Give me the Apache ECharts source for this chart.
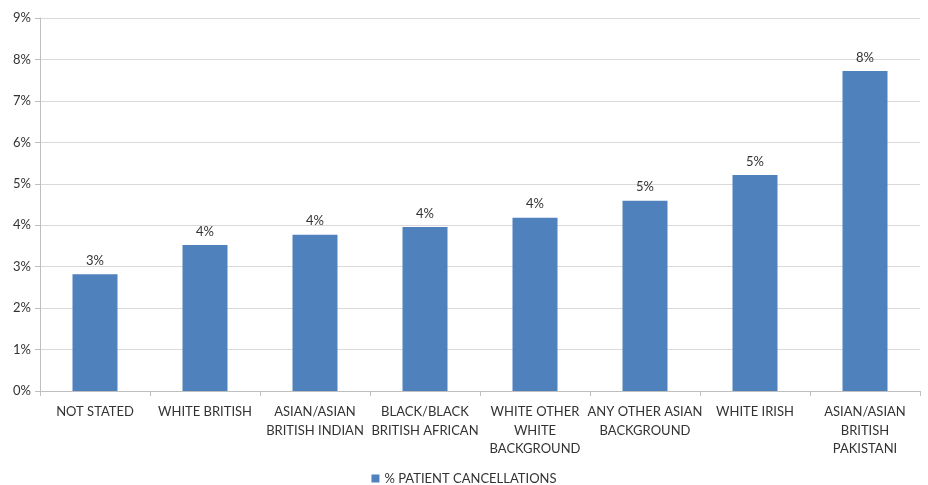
<!DOCTYPE html>
<html>
<head>
<meta charset="utf-8">
<script src="https://cdn.jsdelivr.net/npm/echarts@6/dist/echarts.min.js"></script>
<style>
  html, body { margin: 0; padding: 0; background: #fff; }
  #chart { width: 928px; height: 485px; }
</style>
</head>
<body>
<div id="chart"></div>
<script>
// Ethnic groups (x-axis labels, wrapped as they appear under each bar)
const categories = [
  'NOT STATED',
  'WHITE BRITISH',
  'ASIAN/ASIAN\nBRITISH INDIAN',
  'BLACK/BLACK\nBRITISH AFRICAN',
  'WHITE OTHER\nWHITE\nBACKGROUND',
  'ANY OTHER ASIAN\nBACKGROUND',
  'WHITE IRISH',
  'ASIAN/ASIAN\nBRITISH\nPAKISTANI'
];
// Share of patient cancellations, in percent
const cancellations = [2.82, 3.52, 3.77, 3.96, 4.18, 4.59, 5.21, 7.72];
const seriesName = '% PATIENT CANCELLATIONS';

const FONT = 'Lato, "Open Sans", sans-serif';
const TEXT = '#333333';

const chart = echarts.init(document.getElementById('chart'));
chart.setOption({
  animation: false,
  textStyle: { fontFamily: FONT },
  grid: { left: 40, right: 8, top: 18, bottom: 94 },
  legend: {
    top: 472,
    left: 'center',
    padding: 0,
    itemWidth: 8,
    itemHeight: 8,
    icon: 'rect',
    itemGap: 4,
    textStyle: { fontFamily: FONT, fontSize: 13, color: TEXT },
    data: [seriesName]
  },
  xAxis: {
    type: 'category',
    data: categories,
    axisLine: { lineStyle: { color: '#bfbfbf' } },
    axisTick: { show: true, length: 5, alignWithLabel: false, lineStyle: { color: '#bfbfbf' } },
    axisLabel: { color: TEXT, fontSize: 13, fontFamily: FONT, margin: 12, lineHeight: 18.5, interval: 0 }
  },
  yAxis: {
    type: 'value',
    min: 0,
    max: 9,
    interval: 1,
    axisLine: { show: true, lineStyle: { color: '#bfbfbf' } },
    axisTick: { show: true, length: 5, lineStyle: { color: '#bfbfbf' } },
    axisLabel: { color: TEXT, fontSize: 13, fontFamily: FONT, formatter: '{value}%', margin: 9 },
    splitLine: { lineStyle: { color: '#d9d9d9' } }
  },
  series: [{
    name: seriesName,
    type: 'bar',
    data: cancellations,
    barWidth: 45,
    itemStyle: { color: '#4f81bd' },
    label: {
      show: true,
      position: 'top',
      distance: 7,
      color: TEXT,
      fontSize: 13,
      fontFamily: FONT,
      formatter: p => Math.round(p.value) + '%'
    }
  }]
});
</script>
</body>
</html>
